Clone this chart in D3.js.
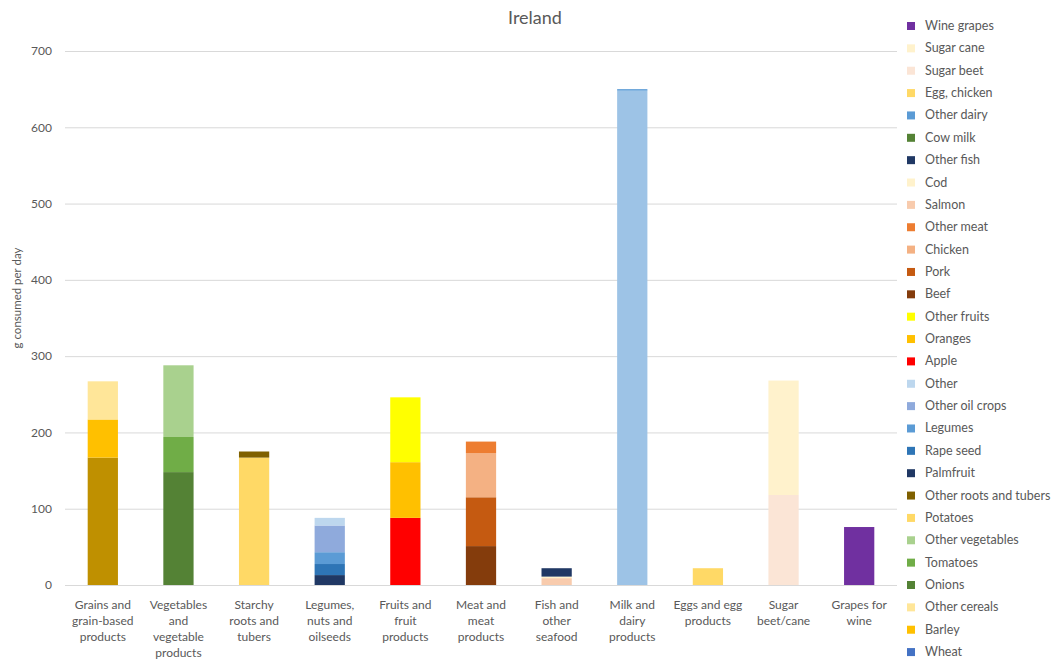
<!DOCTYPE html>
<html>
<head>
<meta charset="utf-8">
<script src="https://cdn.jsdelivr.net/npm/d3@7"></script>
<style>
  body { margin: 0; background: #fff; }
  text { font-family: Lato, "Open Sans", sans-serif; fill: #595959; }
</style>
</head>
<body>
<script>
const width = 1062;
const height = 662;
const margins = { top: 51, left: 65, bottom: 77, right: 165 };

// categories (x axis), label lines
const categories = [
  ["Grains and", "grain-based", "products"],
  ["Vegetables", "and", "vegetable", "products"],
  ["Starchy", "roots and", "tubers"],
  ["Legumes,", "nuts and", "oilseeds"],
  ["Fruits and", "fruit", "products"],
  ["Meat and", "meat", "products"],
  ["Fish and", "other", "seafood"],
  ["Milk and", "dairy", "products"],
  ["Eggs and egg", "products"],
  ["Sugar", "beet/cane"],
  ["Grapes for", "wine"],
];

// series in stacking order (bottom to top)
const seriesNames = [
  "Wheat", "Barley", "Other cereals",
  "Onions", "Tomatoes", "Other vegetables",
  "Potatoes", "Other roots and tubers",
  "Palmfruit", "Rape seed", "Legumes", "Other oil crops", "Other",
  "Apple", "Oranges", "Other fruits",
  "Beef", "Pork", "Chicken", "Other meat",
  "Salmon", "Cod", "Other fish",
  "Cow milk", "Other dairy",
  "Egg, chicken",
  "Sugar beet", "Sugar cane",
  "Wine grapes",
];
// which category each series belongs to
const seriesCategory = [
  0, 0, 0,
  1, 1, 1,
  2, 2,
  3, 3, 3, 3, 3,
  4, 4, 4,
  5, 5, 5, 5,
  6, 6, 6,
  7, 7,
  8,
  9, 9,
  10,
];
// g consumed per day
const seriesValues = [
  167, 50, 50,
  148, 46, 94,
  167, 8,
  13, 14.5, 15.5, 35, 10,
  88, 73, 85,
  51, 64, 58, 15,
  9, 2, 11,
  648, 2,
  22,
  118, 150,
  76,
];
const barColors = [
  "#BF9000", "#FFC000", "#FFE699",
  "#548235", "#70AD47", "#A9D18E",
  "#FFD966", "#7F6000",
  "#203864", "#2E75B6", "#5B9BD5", "#8FAADC", "#BDD7EE",
  "#FF0000", "#FFC000", "#FFFF00",
  "#843C0C", "#C55A11", "#F4B183", "#ED7D31",
  "#F8CBAD", "#FFF2CC", "#203864",
  "#9DC3E6", "#5B9BD5",
  "#FFD966",
  "#FBE5D6", "#FFF2CC",
  "#7030A0",
];
const legendColors = barColors.map((c, i) =>
  seriesNames[i] === "Wheat" ? "#4472C4" : seriesNames[i] === "Cow milk" ? "#548235" : c);

const yTicks = [0, 100, 200, 300, 400, 500, 600, 700];

const draw_width = width - margins.left - margins.right;
const draw_height = height - margins.top - margins.bottom;

// table for d3.stack
const table = categories.map((c, ci) => {
  const row = { cat: ci };
  seriesNames.forEach((s, si) => { row[s] = seriesCategory[si] === ci ? seriesValues[si] : 0; });
  return row;
});
const stacked = d3.stack().keys(seriesNames)(table);

const svg = d3.select('body').append('svg')
  .attr('width', width)
  .attr('height', height);

const xScale = d3.scaleBand()
  .domain(d3.range(categories.length))
  .range([margins.left, margins.left + draw_width])
  .paddingInner(0.6)
  .paddingOuter(0.3);
const yScale = d3.scaleLinear()
  .domain([0, 700])
  .range([margins.top + draw_height, margins.top]);

// grid + y labels
const yAxis = d3.axisLeft(yScale)
  .tickValues(yTicks)
  .tickSize(-draw_width)
  .tickPadding(13);
const yg = svg.append('g')
  .attr('transform', 'translate(' + margins.left + ',0)')
  .call(yAxis);
yg.select('.domain').remove();
yg.selectAll('.tick line').attr('stroke', '#d9d9d9').attr('stroke-width', 1);
yg.selectAll('.tick text').style('font-size', '12px').attr('fill', '#595959');

// bars
svg.append('g').selectAll('g')
  .data(stacked)
  .join('g')
  .attr('fill', (d, i) => barColors[i])
  .selectAll('rect')
  .data(d => d.filter(p => p[1] - p[0] > 0))
  .join('rect')
  .attr('x', p => xScale(p.data.cat))
  .attr('width', xScale.bandwidth())
  .attr('y', p => yScale(p[1]))
  .attr('height', p => yScale(p[0]) - yScale(p[1]));

// x labels
const xl = svg.append('g').selectAll('text')
  .data(categories)
  .join('text')
  .attr('x', (d, i) => xScale(i) + xScale.bandwidth() / 2)
  .attr('y', margins.top + draw_height + 24)
  .attr('text-anchor', 'middle')
  .style('font-size', '12px');
xl.selectAll('tspan')
  .data(d => d)
  .join('tspan')
  .attr('x', function() { return d3.select(this.parentNode).attr('x'); })
  .attr('dy', (d, i) => i === 0 ? 0 : 16)
  .text(d => d);

// title
svg.append('text')
  .attr('x', 535)
  .attr('y', 24)
  .attr('text-anchor', 'middle')
  .style('font-size', '18px')
  .text('Ireland');

// y axis title
svg.append('text')
  .attr('transform', 'translate(21,' + 298 + ') rotate(-90)')
  .attr('text-anchor', 'middle')
  .style('font-size', '11.5px')
  .text('g consumed per day');

// legend (reverse order, like the source)
const legendOrder = d3.range(seriesNames.length).reverse();
const lg = svg.append('g').selectAll('g')
  .data(legendOrder)
  .join('g')
  .attr('transform', (d, i) => 'translate(914,' + (26 + i * 22.36) + ')');
lg.append('rect')
  .attr('x', -7)
  .attr('y', -4)
  .attr('width', 8)
  .attr('height', 8)
  .attr('fill', d => legendColors[d]);
lg.append('text')
  .attr('x', 11)
  .attr('y', 4)
  .style('font-size', '12.5px')
  .text(d => seriesNames[d]);
</script>
</body>
</html>
